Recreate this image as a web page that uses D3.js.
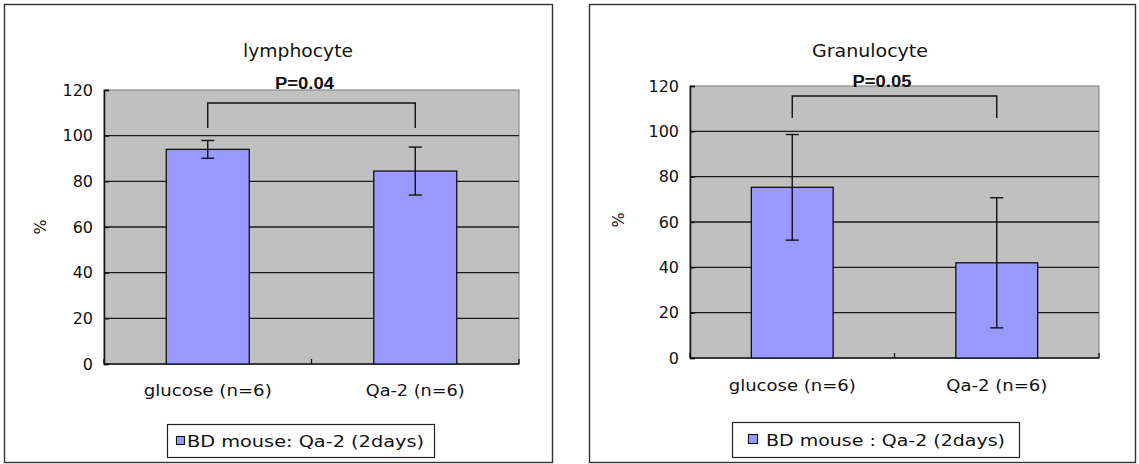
<!DOCTYPE html>
<html>
<head>
<meta charset="utf-8">
<script src="https://cdn.jsdelivr.net/npm/d3@7/dist/d3.min.js"></script>
<style>
  html, body { margin: 0; padding: 0; background: #fff; }
  svg { display: block; }
  text { font-family: "DejaVu Sans", sans-serif; fill: #111; }
</style>
</head>
<body>
<svg id="chart" width="1139" height="464"></svg>
<script>
// ---- data ----
const categories = ["glucose (n=6)", "Qa-2 (n=6)"];
const yTicks = [0, 20, 40, 60, 80, 100, 120];
const titles = ["lymphocyte", "Granulocyte"];
const pLabels = ["P=0.04", "P=0.05"];
const legendLabels = ["BD mouse: Qa-2 (2days)", "BD mouse : Qa-2 (2days)"];
const yLabel = "%";
const lymphMeans = [94.0, 84.5];
const lymphErrors = [3.9, 10.5];
const granMeans = [75.3, 42.0];
const granErrors = [23.3, 28.7];
const bracketTop = [114.3, 115.6];     // bracket height (value units)
const bracketFoot = [103.4, 105.9];    // bracket leg end (value units)

// ---- layout (positions/styles) ----
const panels = [
  { box: [4, 4, 552, 462], plot: [104, 90, 519, 364],
    means: lymphMeans, errors: lymphErrors,
    titleX: 298, titleY: 57, titleLen: 110,
    pX: 304.5, pY: 88.5,
    yLabX: 40, yLabY: 227,
    xLabY: 396, xLabLen: [128, 99],
    legend: [167, 424, 434, 457], swatch: [176, 436, 8], legTextX: 187, legTextY: 447, legLen: 237 },
  { box: [589, 4, 1135, 462], plot: [690, 86, 1099, 358],
    means: granMeans, errors: granErrors,
    titleX: 870, titleY: 57, titleLen: 116,
    pX: 882, pY: 86.5,
    yLabX: 618, yLabY: 220,
    xLabY: 391, xLabLen: [127, 101],
    legend: [732, 422, 1019, 457], swatch: [748, 434, 9], legTextX: 766, legTextY: 446, legLen: 239 }
];

const svg = d3.select("#chart");

panels.forEach((p, pi) => {
  const g = svg.append("g");
  const [bx0, by0, bx1, by1] = p.box;
  g.append("rect").attr("x", bx0 + 0.5).attr("y", by0 + 0.5)
    .attr("width", bx1 - bx0).attr("height", by1 - by0)
    .attr("fill", "#fff").attr("stroke", "#333").attr("stroke-width", 1.4);

  const [px0, py0, px1, py1] = p.plot;
  const x = d3.scaleBand().domain(categories).range([px0, px1])
    .paddingInner(0.6).paddingOuter(0.3);
  const y = d3.scaleLinear().domain([0, 120]).range([py1, py0]);

  // plot background
  g.append("rect").attr("x", px0).attr("y", py0)
    .attr("width", px1 - px0).attr("height", py1 - py0)
    .attr("fill", "#c0c0c0").attr("stroke", "#8a8a8a").attr("stroke-width", 1.2);

  // gridlines
  g.append("g").selectAll("line").data(yTicks.filter(t => t > 0 && t < 120)).join("line")
    .attr("x1", px0).attr("x2", px1)
    .attr("y1", d => y(d)).attr("y2", d => y(d))
    .attr("stroke", "#1a1a1a").attr("stroke-width", 1.4);

  // y axis
  const yAxis = d3.axisLeft(y).tickValues(yTicks).tickSize(-5).tickPadding(11);
  const ya = g.append("g").attr("transform", `translate(${px0},0)`).call(yAxis);
  ya.select(".domain").attr("stroke", "#111").attr("stroke-width", 1.5);
  ya.selectAll(".tick line").attr("stroke", "#111").attr("stroke-width", 1.3);
  ya.selectAll(".tick text").attr("font-family", "DejaVu Sans").attr("font-size", 16)
    .attr("fill", "#111");

  // x axis baseline + between-category ticks
  g.append("line").attr("x1", px0).attr("x2", px1).attr("y1", py1).attr("y2", py1)
    .attr("stroke", "#111").attr("stroke-width", 1.5);
  const sepX = d3.range(categories.length + 1).map(i => px0 + i * (px1 - px0) / categories.length);
  g.append("g").selectAll("line").data(sepX).join("line")
    .attr("x1", d => d).attr("x2", d => d).attr("y1", py1).attr("y2", py1 - 5)
    .attr("stroke", "#111").attr("stroke-width", 1.3);

  // bars
  g.append("g").selectAll("rect").data(categories).join("rect")
    .attr("x", d => x(d)).attr("width", x.bandwidth())
    .attr("y", (d, i) => y(p.means[i])).attr("height", (d, i) => y(0) - y(p.means[i]))
    .attr("fill", "#9999ff").attr("stroke", "#111").attr("stroke-width", 1.3);

  // error bars
  const eg = g.append("g").attr("stroke", "#111").attr("stroke-width", 1.4);
  categories.forEach((c, i) => {
    const cx = x(c) + x.bandwidth() / 2;
    const hi = y(p.means[i] + p.errors[i]), lo = y(p.means[i] - p.errors[i]);
    eg.append("line").attr("x1", cx).attr("x2", cx).attr("y1", hi).attr("y2", lo);
    eg.append("line").attr("x1", cx - 6.5).attr("x2", cx + 6.5).attr("y1", hi).attr("y2", hi);
    eg.append("line").attr("x1", cx - 6.5).attr("x2", cx + 6.5).attr("y1", lo).attr("y2", lo);
  });

  // significance bracket
  const c0 = x(categories[0]) + x.bandwidth() / 2;
  const c1 = x(categories[1]) + x.bandwidth() / 2;
  g.append("path")
    .attr("d", `M${c0},${y(bracketFoot[pi])}V${y(bracketTop[pi])}H${c1}V${y(bracketFoot[pi])}`)
    .attr("fill", "none").attr("stroke", "#111").attr("stroke-width", 1.4);

  // title + p value
  g.append("text").attr("x", p.titleX).attr("y", p.titleY).attr("text-anchor", "middle")
    .attr("font-size", 17).attr("textLength", p.titleLen).attr("lengthAdjust", "spacingAndGlyphs")
    .text(titles[pi]);
  g.append("text").attr("x", p.pX).attr("y", p.pY).attr("text-anchor", "middle")
    .attr("font-weight", "bold")
    .attr("font-size", 16).attr("textLength", 59).attr("lengthAdjust", "spacingAndGlyphs")
    .style("font-family", "'Liberation Sans', Arial, sans-serif")
    .text(pLabels[pi]);

  // y label
  g.append("text").attr("transform", `translate(${p.yLabX},${p.yLabY}) rotate(-90)`)
    .attr("text-anchor", "middle").attr("dy", "0.35em").attr("font-size", 16)
    .text(yLabel);

  // x labels
  g.append("g").selectAll("text").data(categories).join("text")
    .attr("x", d => x(d) + x.bandwidth() / 2).attr("y", p.xLabY)
    .attr("text-anchor", "middle").attr("font-size", 16)
    .attr("textLength", (d, i) => p.xLabLen[i]).attr("lengthAdjust", "spacingAndGlyphs")
    .text(d => d);

  // legend
  const [lx0, ly0, lx1, ly1] = p.legend;
  g.append("rect").attr("x", lx0 + 0.5).attr("y", ly0 + 0.5)
    .attr("width", lx1 - lx0).attr("height", ly1 - ly0)
    .attr("fill", "#fff").attr("stroke", "#222").attr("stroke-width", 1.2);
  const [sx, sy, ss] = p.swatch;
  g.append("rect").attr("x", sx + 0.5).attr("y", sy + 0.5).attr("width", ss).attr("height", ss)
    .attr("fill", "#9999ff").attr("stroke", "#111").attr("stroke-width", 1.1);
  g.append("text").attr("x", p.legTextX).attr("y", p.legTextY).attr("font-size", 16)
    .attr("textLength", p.legLen).attr("lengthAdjust", "spacingAndGlyphs")
    .text(legendLabels[pi]);
});
</script>
</body>
</html>
